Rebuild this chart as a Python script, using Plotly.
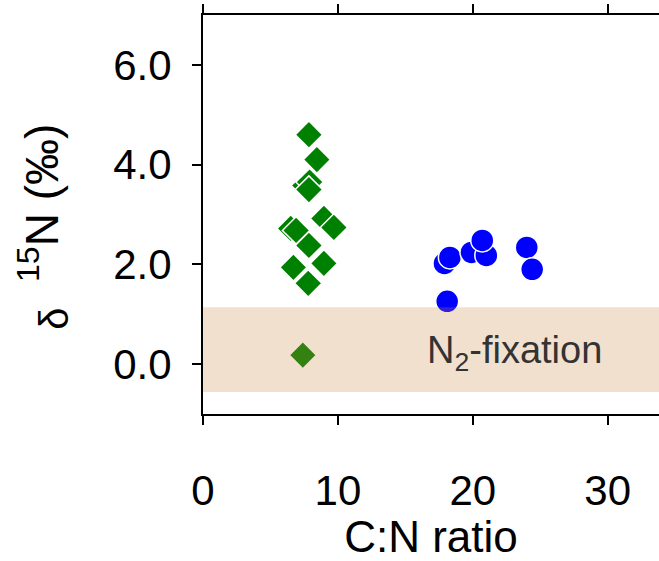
import plotly.graph_objects as go

# Green (diamonds) series: C:N ratio and delta15N
green_cn = [7.55, 7.9, 6.5, 8.96, 7.85, 8.44, 7.85, 9.7, 6.9, 7.85, 6.7, 8.96, 7.8, 7.4]
green_d15n = [3.58, 3.65, 2.72, 2.92, 4.6, 4.1, 3.5, 2.74, 2.68, 2.38, 1.94, 2.02, 1.62, 0.18]

# Blue (circles) series
blue_cn = [17.9, 18.3, 19.9, 21.0, 20.7, 24.0, 24.4, 18.1]
blue_d15n = [2.02, 2.14, 2.24, 2.18, 2.48, 2.34, 1.9, 1.26]

band_low, band_high = -0.56, 1.14
x_ticks = [0, 10, 20, 30]
y_ticks = [0, 2, 4, 6]
y_ticktext = ["0.0", "2.0", "4.0", "6.0"]

fig = go.Figure()
fig.add_trace(go.Scatter(
    x=green_cn, y=green_d15n, mode="markers",
    marker=dict(symbol="diamond", size=21, color="#008000",
                line=dict(color="white", width=1.5)),
    showlegend=False))
fig.add_trace(go.Scatter(
    x=blue_cn, y=blue_d15n, mode="markers",
    marker=dict(symbol="circle", size=23, color="#0000FF",
                line=dict(color="white", width=1.5)),
    showlegend=False))

fig.add_shape(type="rect", xref="paper", yref="y", x0=0, x1=1,
              y0=band_low, y1=band_high, fillcolor="#CD853F", opacity=0.25,
              line=dict(width=0), layer="above")

fig.add_annotation(x=23.1, y=0.22, xref="x", yref="y",
                   text="N<sub>2</sub>-fixation", showarrow=False,
                   font=dict(size=38, color="#333333",
                             family="Liberation Sans, Arial, sans-serif"),
                   xanchor="center", yanchor="middle")

# y-axis title as a rotated annotation for precise placement
fig.add_annotation(x=-0.35, y=0.47, xref="paper", yref="paper",
                   text="<sub><span style='font-size:40px'>δ</span></sub>  <sup>15</sup>N (‰)",
                   showarrow=False, textangle=-90,
                   font=dict(size=46, color="black",
                             family="Liberation Sans, Arial, sans-serif"),
                   xanchor="center", yanchor="middle")

axis_font = dict(size=42, color="black", family="Liberation Sans, Arial, sans-serif")
fig.update_layout(
    width=659, height=561,
    margin=dict(l=203, r=0, t=15, b=147),
    plot_bgcolor="white", paper_bgcolor="white",
    font=dict(family="Liberation Sans, Arial, sans-serif", color="black"),
    xaxis=dict(range=[0, 33.8], tickvals=x_ticks, ticks="outside", ticklen=9,
               tickwidth=2, tickcolor="black", showline=True, linecolor="black",
               linewidth=2, mirror="ticks", showgrid=False, zeroline=False,
               tickfont=axis_font, ticklabelstandoff=30, automargin=False,
               title=dict(text="C:N ratio", font=dict(size=44), standoff=20)),
    yaxis=dict(range=[-1, 7], tickvals=y_ticks, ticktext=y_ticktext,
               ticks="outside", ticklen=9, tickwidth=2, tickcolor="black",
               showline=True, linecolor="black", linewidth=2,
               showgrid=False, zeroline=False, tickfont=axis_font,
               ticklabelstandoff=12, automargin=False),
)

fig.write_html("out.html")
